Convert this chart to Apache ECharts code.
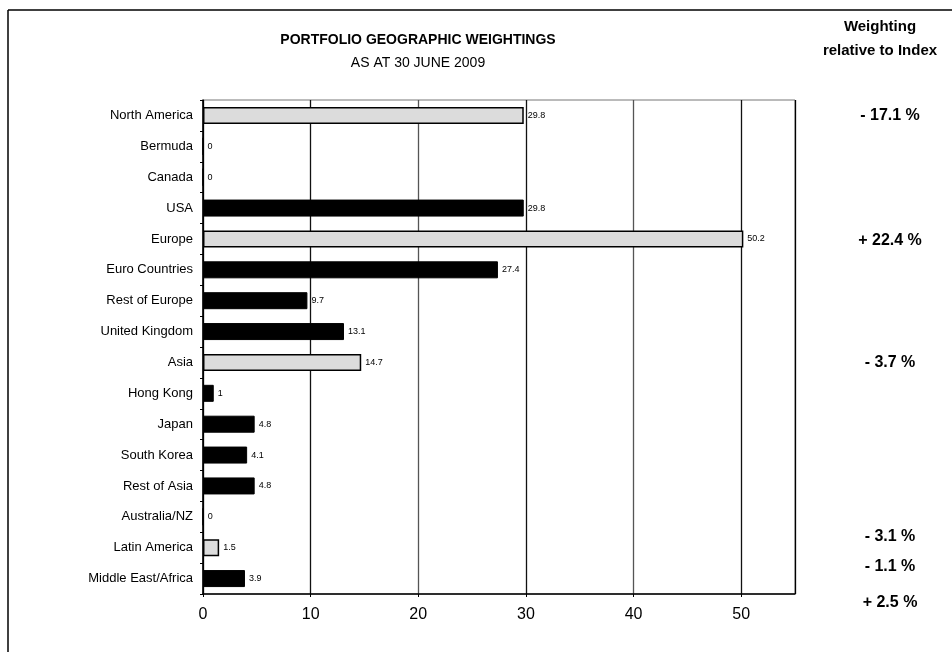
<!DOCTYPE html>
<html><head><meta charset="utf-8">
<script src="https://cdn.jsdelivr.net/npm/echarts@6/dist/echarts.min.js"></script>
<style>html,body{margin:0;padding:0;background:#fff}#c{width:952px;height:652px}</style>
</head><body><div id="c"></div>
<script>
const categories = ['North America','Bermuda','Canada','USA','Europe','Euro Countries','Rest of Europe','United Kingdom','Asia','Hong Kong','Japan','South Korea','Rest of Asia','Australia/NZ','Latin America','Middle East/Africa'];
const weights = [29.8, 0, 0, 29.8, 50.2, 27.4, 9.7, 13.1, 14.7, 1, 4.8, 4.1, 4.8, 0, 1.5, 3.9];
const isRegion = [true,false,false,false,true,false,false,false,true,false,false,false,false,true,true,false];
const relCategories = ['North America','Europe','Asia','Australia/NZ','Latin America','Middle East/Africa'];
const relValues = ['- 17.1 %','+ 22.4 %','- 3.7 %','- 3.1 %','- 1.1 %','+ 2.5 %'];
const xTicks = [0,10,20,30,40,50];

const FONT = '"Liberation Sans", Arial, sans-serif';
const chart = echarts.init(document.getElementById('c'));
const data = weights.map((v,i)=>({
  value: v,
  itemStyle: isRegion[i] ? {color:'#dcdcdc', borderColor:'#000', borderWidth:1.5} : {color:'#000', borderColor:'#000', borderWidth:1}
}));
function txt(x, y, text, size, weight) {
  return {type:'text', x:x, y:y, z:10, style:{text:text, fontSize:size, fontWeight:weight, fontFamily:FONT, fill:'#000', align:'center', verticalAlign:'middle'}};
}
chart.setOption({
  animation:false,
  backgroundColor:'#fff',
  textStyle:{fontFamily:FONT},
  grid:{left:203, right:157, top:100, bottom:58, show:true, borderColor:'#777', borderWidth:1},
  xAxis:{type:'value', min:0, max:55, interval:10,
    axisLine:{show:true, lineStyle:{color:'#000', width:1.5}},
    axisTick:{show:true, length:3, lineStyle:{color:'#000'}},
    axisLabel:{color:'#000', fontSize:16, margin:13, fontFamily:FONT, showMaxLabel:false,
      formatter: v => xTicks.indexOf(v) >= 0 ? String(v) : ''},
    splitLine:{show:true, lineStyle:{color:['#000','#111','#555','#111','#555','#111','#000'], width:1.3}}
  },
  yAxis:{type:'category', data:categories, inverse:true,
    axisLine:{show:true, lineStyle:{color:'#000', width:1.5}},
    axisTick:{show:true, length:3, lineStyle:{color:'#000'}},
    axisLabel:{color:'#000', fontSize:13, margin:10, fontFamily:FONT}
  },
  series:[{type:'bar', data:data, barWidth:17,
    label:{show:true, position:'right', distance:4, fontSize:9, color:'#000', fontFamily:FONT}
  }]
});
const offsets = [0, 2, 0, 20, 19, 24];
const g = [
  {type:'line', shape:{x1:8,y1:10,x2:952,y2:10}, style:{stroke:'#000', lineWidth:1.5}},
  {type:'line', shape:{x1:8,y1:10,x2:8,y2:652}, style:{stroke:'#000', lineWidth:1.5}},
  txt(418, 40, 'PORTFOLIO GEOGRAPHIC WEIGHTINGS', 14, 'bold'),
  txt(418, 63, 'AS AT 30 JUNE 2009', 14, 'normal'),
  txt(880, 27, 'Weighting', 15, 'bold'),
  txt(880, 51, 'relative to Index', 15, 'bold')
];
relCategories.forEach((c,i)=>{
  const y = chart.convertToPixel({yAxisIndex:0}, c) + offsets[i];
  g.push(txt(890, y, relValues[i], 16, 'bold'));
});
chart.setOption({graphic: g});
</script></body></html>
